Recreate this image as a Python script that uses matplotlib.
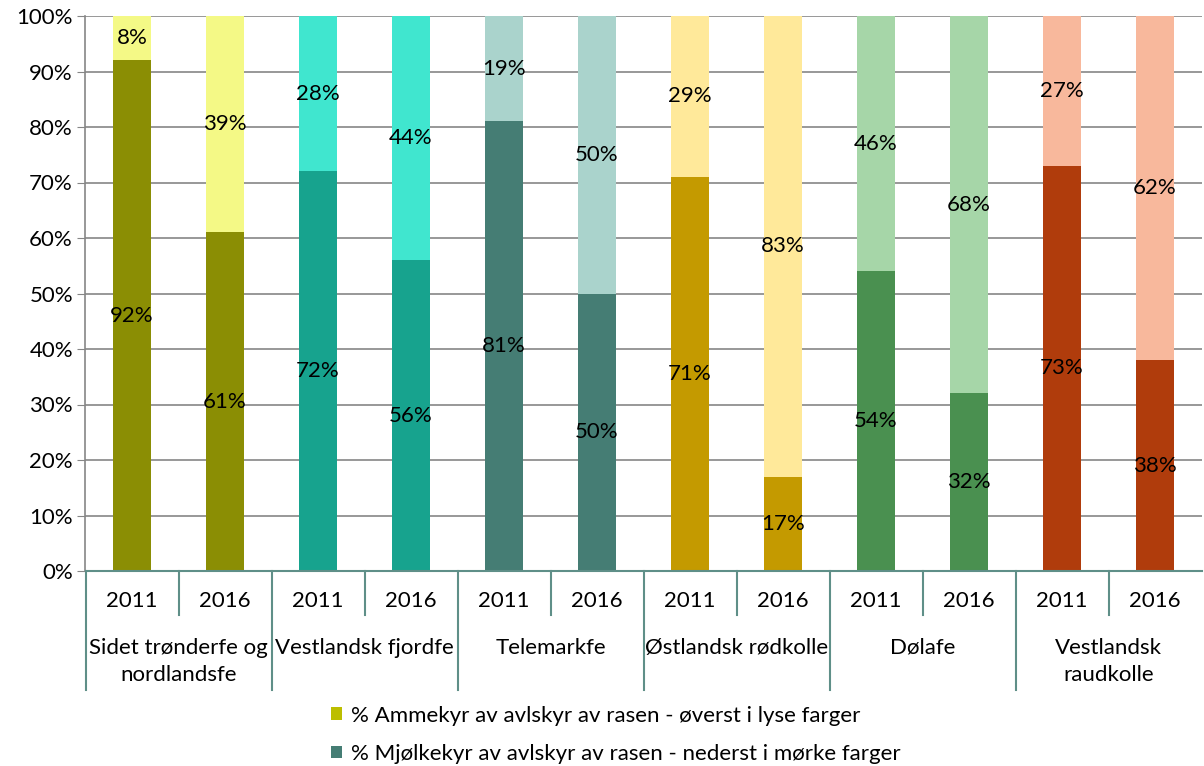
import matplotlib
matplotlib.use("Agg")
import matplotlib.pyplot as plt
from matplotlib.patches import Patch
from matplotlib.lines import Line2D
import matplotlib.transforms as mtransforms

plt.rcParams['font.family'] = ['Lato', 'DejaVu Sans']

groups = ["Sidet trønderfe og\nnordlandsfe", "Vestlandsk fjordfe", "Telemarkfe",
          "Østlandsk rødkolle", "Dølafe", "Vestlandsk\nraudkolle"]
years = ["2011", "2016"]
melk = [92, 61, 72, 56, 81, 50, 71, 17, 54, 32, 73, 38]
amme = [8, 39, 28, 44, 19, 50, 29, 83, 46, 68, 27, 62]
dark_colors = ["#8B8E04", "#17A38E", "#457D74", "#C49A00", "#4A9050", "#B03C0C"]
light_colors = ["#F4F986", "#40E6CF", "#AAD3CC", "#FFE99A", "#A6D6A8", "#F8B89C"]
legend_labels = ["% Ammekyr av avlskyr av rasen - øverst i lyse farger",
                 "% Mjølkekyr av avlskyr av rasen - nederst i mørke farger"]
legend_colors = ["#BCBE00", "#457D74"]

fig = plt.figure(figsize=(12.04, 7.66), dpi=100)
ax = fig.add_axes([85.5/1204, 1-571/766, (1201.5-85.5)/1204, (571-16)/766])

n = len(melk)
xs = list(range(n))
dc = [dark_colors[i // 2] for i in xs]
lc = [light_colors[i // 2] for i in xs]
w = 0.41
ax.bar(xs, melk, width=w, color=dc, zorder=2)
ax.bar(xs, amme, width=w, bottom=melk, color=lc, zorder=2)
fs = 16
for i in xs:
    ax.text(i, melk[i]/2, f"{melk[i]}%", ha='center', va='center', fontsize=fs, color='black', zorder=3)
    ax.text(i, melk[i] + amme[i]/2, f"{amme[i]}%", ha='center', va='center', fontsize=fs, color='black', zorder=3)

ax.set_xlim(-0.5, n - 0.5)
ax.set_ylim(0, 100)
ax.set_yticks(range(0, 101, 10))
ax.set_yticklabels([f"{v}%" for v in range(0, 101, 10)], fontsize=fs)
ax.yaxis.grid(True, color='#868686', linewidth=1.2, zorder=0)
ax.set_axisbelow(True)
ax.tick_params(axis='y', length=6, color='#868686', pad=3)
ax.set_xticks([])
for s in ['top', 'right']:
    ax.spines[s].set_visible(False)
ax.spines['left'].set_color('#868686')
ax.spines['left'].set_linewidth(1.2)
ax.spines['bottom'].set_color('#5F8F88')
ax.spines['bottom'].set_linewidth(1.5)

trans = mtransforms.blended_transform_factory(ax.transData, ax.transAxes)
h_px = 571 - 16
def ya(py):
    return (571 - py) / h_px

for i in xs:
    ax.text(i, ya(601), years[i % 2], transform=trans, ha='center', va='center', fontsize=fs)
for g, name in enumerate(groups):
    ax.text(2*g + 0.5, ya(638), name, transform=trans, ha='center', va='top', fontsize=fs, linespacing=1.45)

for k in range(n):
    xb = k - 0.5
    long = (k % 2 == 0)
    yend = ya(690) if long else ya(615)
    ax.add_line(Line2D([xb, xb], [0, yend], transform=trans, color='#5F8F88', linewidth=1.5, clip_on=False))

handles = [Patch(facecolor=c, edgecolor='none') for c in legend_colors]
fig.legend(handles, legend_labels, loc='upper left', bbox_to_anchor=(315/1204, 1-690/766),
           frameon=False, fontsize=fs, handlelength=0.5, handleheight=0.5, handletextpad=0.4,
           labelspacing=0.82, borderpad=0.2)

fig.savefig("out.png", dpi=100)
